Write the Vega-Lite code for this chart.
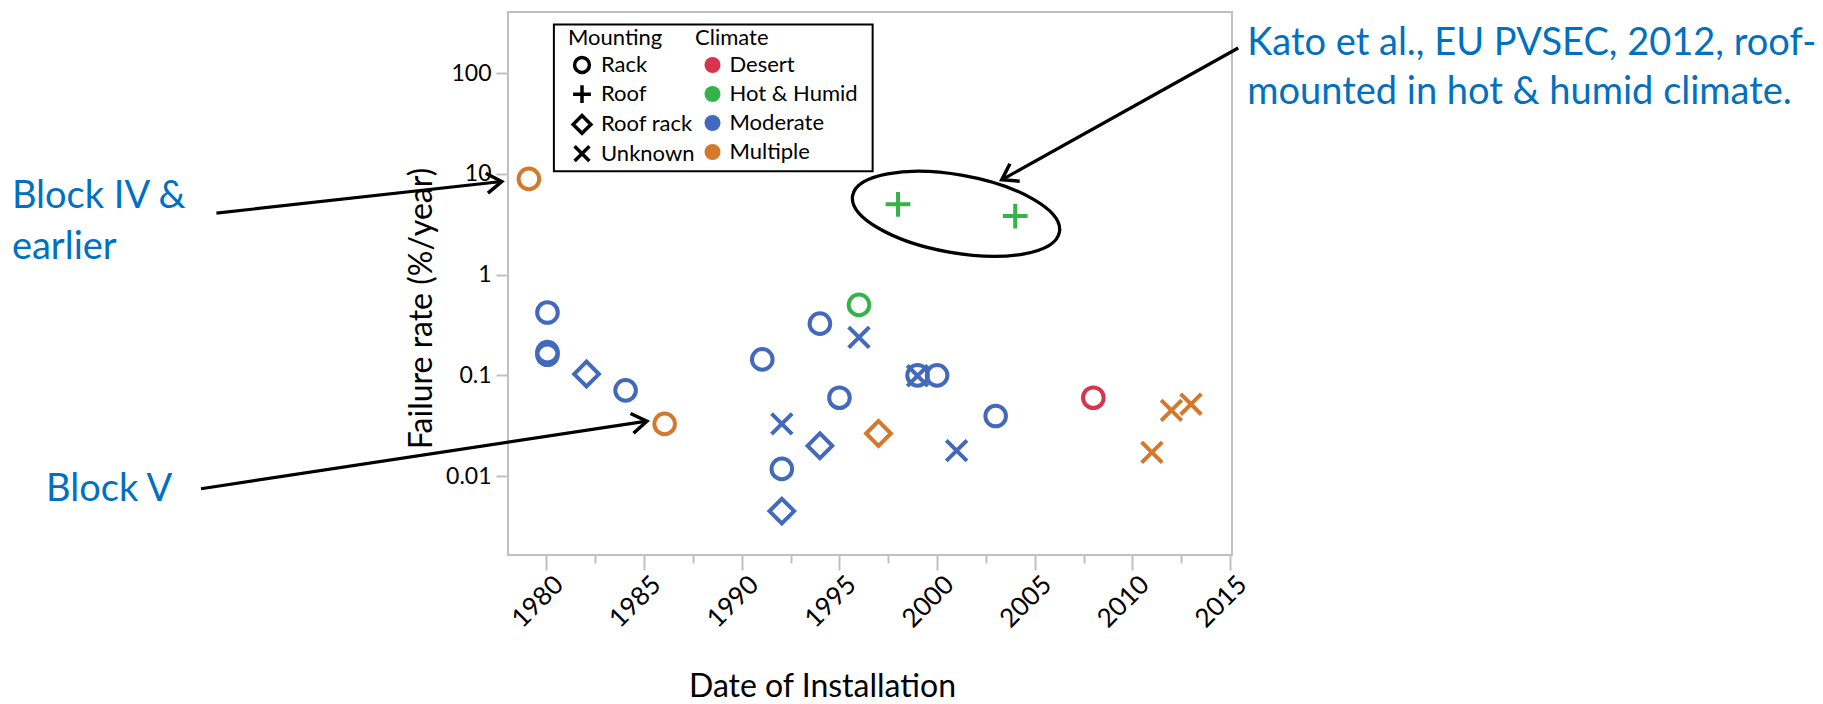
{
  "$schema": "https://vega.github.io/schema/vega-lite/v6.json",
  "width": 724,
  "height": 543,
  "autosize": {"type": "none"},
  "padding": {"left": 508, "top": 12, "right": 591, "bottom": 149},
  "background": "white",
  "config": {
    "view": {"stroke": "#c0c0c0", "strokeWidth": 2},
    "font": "Lato"
  },
  "datasets": {
    "points": [
      {"year": 1979.1, "rate": 8.9, "mounting": "Rack", "climate": "Multiple"},
      {"year": 1980.05, "rate": 0.42, "mounting": "Rack", "climate": "Moderate"},
      {"year": 1980.05, "rate": 0.16, "mounting": "Rack", "climate": "Moderate"},
      {"year": 1980.05, "rate": 0.17, "mounting": "Rack", "climate": "Moderate"},
      {"year": 1982.05, "rate": 0.103, "mounting": "Roof rack", "climate": "Moderate"},
      {"year": 1984.05, "rate": 0.071, "mounting": "Rack", "climate": "Moderate"},
      {"year": 1986.05, "rate": 0.033, "mounting": "Rack", "climate": "Multiple"},
      {"year": 1991.05, "rate": 0.144, "mounting": "Rack", "climate": "Moderate"},
      {"year": 1992.05, "rate": 0.033, "mounting": "Unknown", "climate": "Moderate"},
      {"year": 1992.05, "rate": 0.0118, "mounting": "Rack", "climate": "Moderate"},
      {"year": 1992.05, "rate": 0.0045, "mounting": "Roof rack", "climate": "Moderate"},
      {"year": 1994.0, "rate": 0.326, "mounting": "Rack", "climate": "Moderate"},
      {"year": 1994.0, "rate": 0.02, "mounting": "Roof rack", "climate": "Moderate"},
      {"year": 1995.0, "rate": 0.06, "mounting": "Rack", "climate": "Moderate"},
      {"year": 1996.0, "rate": 0.5, "mounting": "Rack", "climate": "Hot & Humid"},
      {"year": 1996.0, "rate": 0.238, "mounting": "Unknown", "climate": "Moderate"},
      {"year": 1997.0, "rate": 0.0265, "mounting": "Roof rack", "climate": "Multiple"},
      {"year": 1998.0, "rate": 4.98, "mounting": "Roof", "climate": "Hot & Humid"},
      {"year": 2004.0, "rate": 3.81, "mounting": "Roof", "climate": "Hot & Humid"},
      {"year": 1999.0, "rate": 0.099, "mounting": "Unknown", "climate": "Moderate"},
      {"year": 1999.0, "rate": 0.1, "mounting": "Rack", "climate": "Moderate"},
      {"year": 2000.0, "rate": 0.1, "mounting": "Rack", "climate": "Moderate"},
      {"year": 2001.0, "rate": 0.0179, "mounting": "Unknown", "climate": "Moderate"},
      {"year": 2003.0, "rate": 0.0395, "mounting": "Rack", "climate": "Moderate"},
      {"year": 2008.0, "rate": 0.06, "mounting": "Rack", "climate": "Desert"},
      {"year": 2011.0, "rate": 0.0172, "mounting": "Unknown", "climate": "Multiple"},
      {"year": 2012.0, "rate": 0.0449, "mounting": "Unknown", "climate": "Multiple"},
      {"year": 2013.0, "rate": 0.0517, "mounting": "Unknown", "climate": "Multiple"}
    ],
    "legendbox": [
      {"year": 1980.38, "year2": 1996.7, "rate": 303, "rate2": 10.6}
    ],
    "ellipse": [
      {"year": 2000.97, "rate": 4.01}
    ],
    "arrows": [
      {"id": "a1", "year": 1963.1, "rate": 4.07, "year2": 1977.71, "rate2": 8.38},
      {"id": "a2", "year": 1962.31, "rate": 0.0075, "year2": 1985.14, "rate2": 0.0351},
      {"id": "a3", "year": 2015.42, "rate": 177, "year2": 2003.31, "rate2": 8.71}
    ],
    "blocknotes": [
      {"note": "Block IV &", "year": 1952.63, "rate": 4.56},
      {"note": "earlier", "year": 1952.63, "rate": 1.426},
      {"note": "Block V", "year": 1954.38, "rate": 0.00565}
    ],
    "katonotes": [
      {"note": "Kato et al., EU PVSEC, 2012, roof-", "year": 2015.88, "rate": 151},
      {"note": "mounted in hot & humid climate.", "year": 2015.88, "rate": 49.3}
    ]
  },
  "layer": [
    {
      "data": {"name": "legendbox"},
      "mark": {"type": "rect", "fill": "white", "stroke": "black", "strokeWidth": 2},
      "encoding": {
        "x": {"field": "year", "type": "quantitative", "scale": {"domain": [1978.03, 2015.1], "nice": false, "zero": false}},
        "x2": {"field": "year2"},
        "y": {"field": "rate", "type": "quantitative", "scale": {"type": "log", "domain": [0.00165, 403], "nice": false}},
        "y2": {"field": "rate2"}
      }
    },
    {
      "data": {"name": "points"},
      "mark": {"type": "point", "filled": true, "opacity": 0, "size": 256, "shape": "circle"},
      "encoding": {
        "x": {"field": "year", "type": "quantitative", "scale": {"domain": [1978.03, 2015.1], "nice": false, "zero": false}},
        "y": {"field": "rate", "type": "quantitative", "scale": {"type": "log", "domain": [0.00165, 403], "nice": false}},
        "fill": {
          "field": "climate", "type": "nominal",
          "scale": {
            "domain": ["Desert", "Hot & Humid", "Moderate", "Multiple"],
            "range": ["#d9344e", "#35b34a", "#4269bb", "#d4782b"]
          },
          "legend": {
            "title": "Climate",
            "orient": "none",
            "legendX": 187,
            "legendY": 16,
            "padding": 0,
            "titleFontSize": 22,
            "titleFontWeight": "normal",
            "titleColor": "black",
            "titlePadding": 4,
            "labelFontSize": 22,
            "labelColor": "black",
            "labelOffset": 6,
            "symbolOffset": 6.5,
            "rowPadding": 7,
            "symbolType": "circle",
            "symbolSize": 256,
            "symbolStrokeWidth": 0,
            "symbolOpacity": 1
          }
        }
      }
    },
    {
      "data": {"name": "points"},
      "mark": {"type": "point", "filled": false, "strokeWidth": 4, "size": 425, "opacity": 1},
      "encoding": {
        "x": {
          "field": "year", "type": "quantitative",
          "scale": {"domain": [1978.03, 2015.1], "nice": false, "zero": false},
          "axis": {
            "title": "Date of Installation",
            "values": [1980, 1982.5, 1985, 1987.5, 1990, 1992.5, 1995, 1997.5, 2000, 2002.5, 2005, 2007.5, 2010, 2012.5, 2015],
            "labelExpr": "datum.value % 5 === 0 ? format(datum.value, 'd') : ''",
            "labelAngle": -45,
            "labelAlign": "right",
            "labelBaseline": "top",
            "labelPadding": 1,
            "labelOffset": 3,
            "labelOverlap": false,
            "labelFlush": false,
            "labelFontSize": 26,
            "labelColor": "black",
            "grid": false,
            "domain": false,
            "tickColor": "#c0c0c0",
            "tickWidth": 2,
            "tickSize": {"condition": {"test": "datum.value % 5 === 0", "value": 15}, "value": 8},
            "titleFontSize": 32,
            "titleFontWeight": "normal",
            "titleColor": "black",
            "titleX": 314,
            "titleY": 141,
            "titleBaseline": "alphabetic",
            "titleAlign": "center"
          }
        },
        "y": {
          "field": "rate", "type": "quantitative",
          "scale": {"type": "log", "domain": [0.00165, 403], "nice": false},
          "axis": {
            "title": "Failure rate (%/year)",
            "values": [0.01, 0.1, 1, 10, 100],
            "format": "~g",
            "grid": false,
            "domain": false,
            "tickColor": "#c0c0c0",
            "tickWidth": 2,
            "tickSize": 12,
            "labelFontSize": 23,
            "labelColor": "black",
            "labelPadding": 5,
            "titleFontSize": 32,
            "titleFontWeight": "normal",
            "titleColor": "black",
            "titleAngle": -90,
            "titleX": -87,
            "titleY": 296,
            "titleBaseline": "middle",
            "titleAlign": "center"
          }
        },
        "shape": {
          "field": "mounting", "type": "nominal",
          "scale": {
            "domain": ["Rack", "Roof", "Roof rack", "Unknown"],
            "range": ["circle", "M-1.2,0L1.2,0M0,-1.2L0,1.2", "M-1.2,0L0,-1.2L1.2,0L0,1.2Z", "M-1,-1L1,1M-1,1L1,-1"]
          },
          "legend": {
            "title": "Mounting",
            "orient": "none",
            "legendX": 60,
            "legendY": 16,
            "padding": 0,
            "titleFontSize": 22,
            "titleFontWeight": "normal",
            "titleColor": "black",
            "titlePadding": 4,
            "labelFontSize": 22,
            "labelColor": "black",
            "labelOffset": 8,
            "symbolOffset": 3,
            "rowPadding": -1.8,
            "symbolStrokeColor": "black",
            "symbolStrokeWidth": 3.5,
            "symbolSize": 220
          }
        },
        "stroke": {
          "field": "climate", "type": "nominal",
          "scale": {
            "domain": ["Desert", "Hot & Humid", "Moderate", "Multiple"],
            "range": ["#d9344e", "#35b34a", "#4269bb", "#d4782b"]
          },
          "legend": null
        }
      }
    },
    {
      "data": {"name": "ellipse"},
      "mark": {"type": "point", "filled": false, "stroke": "black", "strokeWidth": 3.3, "opacity": 1, "size": 44100, "angle": 10, "shape": "M-1,0A1,0.371,0,1,1,1,0A1,0.371,0,1,1,-1,0Z"},
      "encoding": {
        "x": {"field": "year", "type": "quantitative", "scale": {"domain": [1978.03, 2015.1], "nice": false, "zero": false}},
        "y": {"field": "rate", "type": "quantitative", "scale": {"type": "log", "domain": [0.00165, 403], "nice": false}}
      }
    },
    {
      "data": {"name": "arrows"},
      "mark": {"type": "rule", "stroke": "black", "strokeWidth": 3.2},
      "encoding": {
        "x": {"field": "year", "type": "quantitative", "scale": {"domain": [1978.03, 2015.1], "nice": false, "zero": false}},
        "y": {"field": "rate", "type": "quantitative", "scale": {"type": "log", "domain": [0.00165, 403], "nice": false}},
        "x2": {"field": "year2"},
        "y2": {"field": "rate2"}
      }
    },
    {
      "data": {"name": "arrows"},
      "transform": [{"filter": "datum.id === 'a1'"}],
      "mark": {"type": "point", "filled": false, "stroke": "black", "strokeWidth": 3.5, "opacity": 1, "size": 400, "angle": -6.3, "shape": "M-1.5,-1L0,0L-1.5,1"},
      "encoding": {
        "x": {"field": "year2", "type": "quantitative", "scale": {"domain": [1978.03, 2015.1], "nice": false, "zero": false}},
        "y": {"field": "rate2", "type": "quantitative", "scale": {"type": "log", "domain": [0.00165, 403], "nice": false}}
      }
    },
    {
      "data": {"name": "arrows"},
      "transform": [{"filter": "datum.id === 'a2'"}],
      "mark": {"type": "point", "filled": false, "stroke": "black", "strokeWidth": 3.5, "opacity": 1, "size": 400, "angle": -8.6, "shape": "M-1.5,-1L0,0L-1.5,1"},
      "encoding": {
        "x": {"field": "year2", "type": "quantitative", "scale": {"domain": [1978.03, 2015.1], "nice": false, "zero": false}},
        "y": {"field": "rate2", "type": "quantitative", "scale": {"type": "log", "domain": [0.00165, 403], "nice": false}}
      }
    },
    {
      "data": {"name": "arrows"},
      "transform": [{"filter": "datum.id === 'a3'"}],
      "mark": {"type": "point", "filled": false, "stroke": "black", "strokeWidth": 3.5, "opacity": 1, "size": 400, "angle": 150.8, "shape": "M-1.5,-1L0,0L-1.5,1"},
      "encoding": {
        "x": {"field": "year2", "type": "quantitative", "scale": {"domain": [1978.03, 2015.1], "nice": false, "zero": false}},
        "y": {"field": "rate2", "type": "quantitative", "scale": {"type": "log", "domain": [0.00165, 403], "nice": false}}
      }
    },
    {
      "data": {"name": "blocknotes"},
      "mark": {"type": "text", "align": "left", "baseline": "alphabetic", "font": "Lato", "fontSize": 38, "color": "#0070c0"},
      "encoding": {
        "x": {"field": "year", "type": "quantitative", "scale": {"domain": [1978.03, 2015.1], "nice": false, "zero": false}},
        "y": {"field": "rate", "type": "quantitative", "scale": {"type": "log", "domain": [0.00165, 403], "nice": false}},
        "text": {"field": "note"}
      }
    },
    {
      "data": {"name": "katonotes"},
      "mark": {"type": "text", "align": "left", "baseline": "alphabetic", "font": "Lato", "fontSize": 38, "color": "#0070c0"},
      "encoding": {
        "x": {"field": "year", "type": "quantitative", "scale": {"domain": [1978.03, 2015.1], "nice": false, "zero": false}},
        "y": {"field": "rate", "type": "quantitative", "scale": {"type": "log", "domain": [0.00165, 403], "nice": false}},
        "text": {"field": "note"}
      }
    }
  ]
}
